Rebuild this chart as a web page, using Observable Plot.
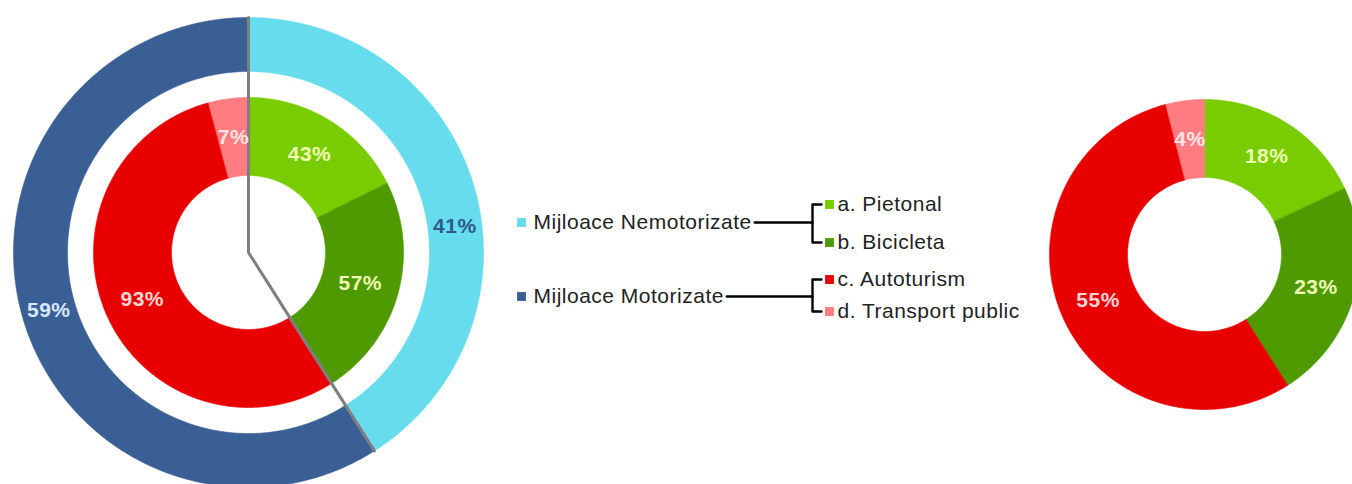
<!DOCTYPE html>
<html>
<head>
<meta charset="utf-8">
<script src="https://cdn.jsdelivr.net/npm/d3@7"></script>
<script src="https://cdn.jsdelivr.net/npm/@observablehq/plot@0.6"></script>
<style>
  html, body { margin: 0; padding: 0; background: #fff; }
  #chart svg text { letter-spacing: 0.5px; }
</style>
</head>
<body>
<div id="chart"></div>
<script>
// ---------------- DATA ----------------
const groups = ["Mijloace Nemotorizate", "Mijloace Motorizate"];
const groupShares = [41, 59];
const modes = ["a. Pietonal", "b. Bicicleta", "c. Autoturism", "d. Transport public"];
const modeGroup = [0, 0, 1, 1];
const modeSharesWithinGroup = [43, 57, 93, 7];
const modeSharesOverall = [18, 23, 55, 4];

// ---------------- STYLE ----------------
const sliceColor = {
  "Mijloace Nemotorizate": "#66dced",
  "Mijloace Motorizate": "#3a5f94",
  "a. Pietonal": "#79cc00",
  "b. Bicicleta": "#4f9a00",
  "c. Autoturism": "#e80000",
  "d. Transport public": "#ff7c80"
};
const labelColor = {
  "Mijloace Nemotorizate": "#2f5a8c",
  "Mijloace Motorizate": "#dbe8fb",
  "a. Pietonal": "#eefcb4",
  "b. Bicicleta": "#eefcb4",
  "c. Autoturism": "#ffd6d6",
  "d. Transport public": "#ffe4e4"
};
const FONT = "'Liberation Sans', Arial, Helvetica, sans-serif";
const LEGEND_FS = 21, LABEL_FS = 21, SPACING = 0.5;

// ---------------- LAYOUT ----------------
const W = 1352, H = 484;
const leftC = {cx: 248, cy: 252};
const rightC = {cx: 1204, cy: 254};
const outerRing = [181, 235];
const innerRing = [77, 155];
const labelNudgeDeg = {"Mijloace Nemotorizate": 9};
const legend = {
  groupY: [222, 296], modeY: [204, 242, 279, 311],
  groupSquareX: 521, groupTextX: 533,
  bracketX: 812, tickX: 821, modeSquareX: 829, modeTextX: 837
};

// ---------------- GEOMETRY FROM DATA ----------------
const pie = d3.pie().sort(null).startAngle(0).endAngle(2 * Math.PI);
const polar = (c, r, a) => ({x: c.cx + r * Math.sin(a), y: c.cy - r * Math.cos(a)});

function slicePoly(c, [r0, r1], a0, a1, key, id) {
  const n = Math.max(2, Math.ceil((a1 - a0) / (Math.PI / 180)) + 1);
  const pts = [];
  for (let i = 0; i < n; i++) pts.push({...polar(c, r1, a0 + (a1 - a0) * i / (n - 1)), key, id});
  for (let i = n - 1; i >= 0; i--) pts.push({...polar(c, r0, a0 + (a1 - a0) * i / (n - 1)), key, id});
  return pts;
}

const polys = [];
const labels = [];
function addSlice(c, ring, a0, a1, key, id, value) {
  polys.push(...slicePoly(c, ring, a0, a1, key, id));
  const am = (a0 + a1) / 2 + (ring === outerRing && labelNudgeDeg[key] ? labelNudgeDeg[key] * Math.PI / 180 : 0);
  labels.push({...polar(c, (ring[0] + ring[1]) / 2, am), text: value + "%", key});
}

// Left chart: outer ring (groups)
const gArcs = pie(groupShares);
gArcs.forEach((a, i) => addSlice(leftC, outerRing, a.startAngle, a.endAngle, groups[i], "Lo" + i, groupShares[i]));
// Left chart: inner ring (modes nested in their group)
groups.forEach((g, gi) => {
  const idx = modes.map((m, i) => i).filter(i => modeGroup[i] === gi);
  const sub = d3.pie().sort(null).startAngle(gArcs[gi].startAngle).endAngle(gArcs[gi].endAngle)(idx.map(i => modeSharesWithinGroup[i]));
  sub.forEach((a, k) => addSlice(leftC, innerRing, a.startAngle, a.endAngle, modes[idx[k]], "Li" + idx[k], modeSharesWithinGroup[idx[k]]));
});
// Right chart: overall modes
pie(modeSharesOverall).forEach((a, i) => addSlice(rightC, innerRing, a.startAngle, a.endAngle, modes[i], "R" + i, modeSharesOverall[i]));

// Gray divider line along the group boundaries
const boundary = gArcs[0].endAngle;
const divider = [polar(leftC, outerRing[1], 0), {x: leftC.cx, y: leftC.cy}, polar(leftC, outerRing[1], boundary)];

// ---------------- LEGEND ----------------
const ctx = document.createElement("canvas").getContext("2d");
ctx.font = LEGEND_FS + "px " + FONT;
const textW = s => ctx.measureText(s).width + s.length * SPACING;

const legSquares = [], legTexts = [], legLines = [];
groups.forEach((g, gi) => {
  const gy = legend.groupY[gi];
  legSquares.push({x: legend.groupSquareX, y: gy, key: g});
  legTexts.push({x: legend.groupTextX, y: gy, text: g});
  const endX = legend.groupTextX + textW(g) + 3;
  legLines.push({x: endX, y: gy, id: "h" + gi}, {x: legend.bracketX, y: gy, id: "h" + gi});
  const idx = modes.map((m, i) => i).filter(i => modeGroup[i] === gi);
  const ys = idx.map(i => legend.modeY[i]);
  const ya = d3.min(ys), yb = d3.max(ys);
  legLines.push(
    {x: legend.tickX, y: ya, id: "b" + gi}, {x: legend.bracketX, y: ya, id: "b" + gi},
    {x: legend.bracketX, y: yb, id: "b" + gi}, {x: legend.tickX, y: yb, id: "b" + gi});
  idx.forEach(i => {
    legSquares.push({x: legend.modeSquareX, y: legend.modeY[i], key: modes[i]});
    legTexts.push({x: legend.modeTextX, y: legend.modeY[i], text: modes[i]});
  });
});

// ---------------- PLOT ----------------
const chart = Plot.plot({
  width: W, height: H,
  margin: 0,
  x: {domain: [0, W], range: [0, W], axis: null},
  y: {domain: [0, H], range: [0, H], axis: null},
  color: {type: "identity"},
  style: {fontFamily: FONT, background: "#fff"},
  marks: [
    Plot.line(polys, {x: "x", y: "y", z: "id", fill: d => sliceColor[d.key], stroke: d => sliceColor[d.key], strokeWidth: 0.6, curve: "linear-closed"}),
    Plot.line(divider, {x: "x", y: "y", stroke: "#7f7f7f", strokeWidth: 3}),
    Plot.text(labels, {x: "x", y: "y", text: "text", fill: d => labelColor[d.key], fontSize: LABEL_FS, fontWeight: "bold"}),
    Plot.line(legLines, {x: "x", y: "y", z: "id", stroke: "#000", strokeWidth: 2.4}),
    Plot.dot(legSquares, {x: "x", y: "y", symbol: "square", r: 5, fill: d => sliceColor[d.key], stroke: null}),
    Plot.text(legTexts, {x: "x", y: "y", text: "text", textAnchor: "start", fill: "#222", fontSize: LEGEND_FS})
  ]
});
document.getElementById("chart").appendChild(chart);
</script>
</body>
</html>
